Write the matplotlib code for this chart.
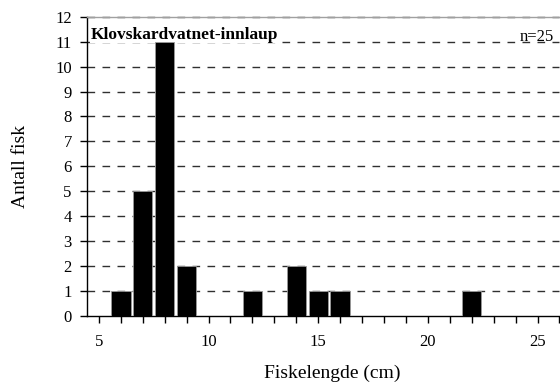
import numpy as np
import matplotlib.pyplot as plt

plt.rcParams['font.family'] = ['Liberation Serif', 'DejaVu Serif']

# length classes (cm) and number of fish in each
lengths = [6, 7, 8, 9, 12, 14, 15, 16, 22]
counts = [1, 5, 11, 2, 1, 2, 1, 1, 1]
n_fish = sum(counts)
site = "Klovskardvatnet-innlaup"

fig = plt.figure(figsize=(5.6, 3.83), dpi=100)
ax = fig.add_axes([0.1555, 0.176, 0.8435, 0.780])

ax.bar(lengths, counts, width=0.88, color="black", edgecolor="#9a9a9a",
       linewidth=0.6, zorder=3)

ax.set_xlim(4.46, 26)
ax.set_ylim(0, 12)
ax.set_xticks(np.arange(5, 30, 5))
ax.set_xticks(np.arange(5, 27, 1), minor=True)
ax.set_yticks(np.arange(0, 13, 1))

for y in range(1, 13):
    ax.axhline(y, color="#303030", lw=1.0, dashes=(5.5, 5.3), zorder=1,
               clip_on=False)

ax.spines["right"].set_visible(False)
ax.spines["top"].set_color("#a0a0a0")
for side in ("top", "left", "bottom"):
    ax.spines[side].set_linewidth(1.0)

ax.tick_params(axis="both", which="both", direction="out", length=5,
               width=1.0, labelsize=12)
ax.tick_params(axis="x", which="both", pad=8)
ax.tick_params(axis="y", pad=6)

ax.set_xlabel("Fiskelengde (cm)", fontsize=14)
ax.xaxis.set_label_coords(0.518, -0.165)
ax.set_ylabel("Antall fisk", fontsize=14)
ax.yaxis.set_label_coords(-0.122, 0.5)

# site name sits on a white patch between the gridlines and the bars
ax.text(4.64, 11.12, site, fontsize=12.5, fontweight="bold", ha="left",
        va="baseline", zorder=2,
        bbox=dict(facecolor="white", edgecolor="none", pad=0.5))
ax.text(25.75, 11.04, f"n={n_fish}", fontsize=12, ha="right",
        va="baseline", zorder=4)

fig.savefig("out.png", dpi=100)
